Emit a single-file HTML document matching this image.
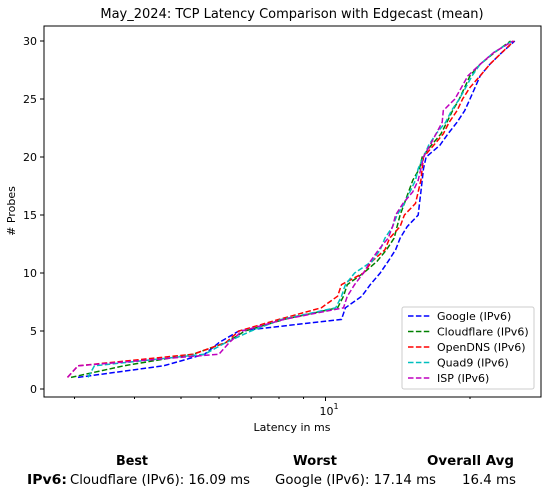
<!DOCTYPE html>
<html><head><meta charset="utf-8"><style>
body{margin:0;background:#fff;font-family:"Liberation Sans","DejaVu Sans",sans-serif}
svg text{font-family:"DejaVu Sans","Liberation Sans",sans-serif}
</style></head><body>
<svg id="c" width="548" height="496" xmlns="http://www.w3.org/2000/svg"></svg>
<script>
const probes=[1,2,3,4,5,6,7,8,9,10,11,12,13,14,15,16,17,18,19,20,21,22,23,24,25,26,27,28,29,30];
const seriesNames=["Google (IPv6)","Cloudflare (IPv6)","OpenDNS (IPv6)","Quad9 (IPv6)","ISP (IPv6)"];
const google=[3.05,4.6,5.6,6.0,6.6,10.8,11.0,11.9,12.4,13.0,13.5,14.0,14.3,14.8,15.6,15.7,15.8,15.9,16.0,16.2,17.3,18.0,18.8,19.5,20.0,20.5,21.0,22.0,23.3,24.8];
const cloudflare=[2.95,3.8,5.3,6.2,6.8,8.2,10.6,10.9,11.1,12.0,12.8,13.4,13.9,14.1,14.3,14.6,14.9,15.2,15.7,15.9,16.6,17.4,17.9,18.4,19.0,19.5,20.0,21.0,22.5,24.3];
const opendns=[2.9,3.05,5.3,6.2,6.6,8.0,9.8,10.6,10.8,12.0,12.5,13.3,13.6,14.3,14.6,15.4,15.6,15.8,15.9,16.0,16.8,17.6,18.1,18.8,19.3,20.0,21.0,22.0,23.3,24.7];
const quad9=[3.2,3.3,5.6,6.2,7.0,8.1,10.5,10.8,11.0,11.5,12.5,13.0,13.3,13.8,14.1,14.6,15.0,15.4,15.6,16.0,16.4,17.0,17.8,18.3,19.0,19.6,20.2,21.0,22.4,24.5];
const isp=[2.9,3.05,6.0,6.3,6.7,8.2,10.9,11.1,11.5,12.0,12.4,12.9,13.5,13.8,14.0,14.5,15.2,15.6,15.8,16.0,16.5,17.0,17.5,17.6,18.6,19.2,19.8,21.0,22.4,24.6];
const yTicks=[0,5,10,15,20,25,30];
const colors=["#0000ff","#008000","#ff0000","#00bfbf","#bf00bf"];
const S=document.getElementById('c');const NS="http://www.w3.org/2000/svg";
function mk(t,a,txt){const e=document.createElementNS(NS,t);for(const k in a)e.setAttribute(k,a[k]);if(txt!=null)e.textContent=txt;S.appendChild(e);return e;}
const L=44,R=541,T=26,B=397;
const X=v=>325.5+480*Math.log10(v/10);
const Y=v=>389-v*(348/30);
let e=mk('rect',{x:L,y:T,width:R-L,height:B-T,fill:'none',stroke:'#000','stroke-width':1});


e=mk('text',{x:292,y:18,'text-anchor':'middle','font-size':13},'May_2024: TCP Latency Comparison with Edgecast (mean)');


yTicks.forEach(t=>{const y=Y(t);mk('line',{x1:L-4,x2:L,y1:y,y2:y,stroke:'#000'});
e=mk('text',{x:L-7,y:y+4,'text-anchor':'end','font-size':11},t);

});
[3,4,5,6,7,8,9,20].forEach(v=>{const x=X(v);mk('line',{x1:x,x2:x,y1:B,y2:B+2,stroke:'#000'});});
mk('line',{x1:X(10),x2:X(10),y1:B,y2:B+4,stroke:'#000'});
e=mk('text',{x:X(10)-6,y:415,'font-size':11},'10');


mk('text',{x:X(10)+8,y:409,'font-size':8},'1');
e=mk('text',{x:292,y:431,'text-anchor':'middle','font-size':11},'Latency in ms');


e=mk('text',{x:15,y:211,'text-anchor':'middle','font-size':11,transform:'rotate(-90 15 211)'},'# Probes');


[google,cloudflare,opendns,quad9,isp].forEach((s,i)=>{
 const d=s.map((v,j)=>(j?'L':'M')+X(v).toFixed(1)+' '+Y(probes[j]).toFixed(1)).join(' ');
 const p=mk('path',{d:d,fill:'none',stroke:colors[i],'stroke-width':1.5,'stroke-dasharray':'5.5 2.4'});
 
 
});
e=mk('rect',{x:402,y:307,width:132,height:82,rx:2,fill:'#fff','fill-opacity':0.85,stroke:'#ccc'});


seriesNames.forEach((n,i)=>{const y=316+i*15.5;
 mk('line',{x1:408,x2:430,y1:y,y2:y,stroke:colors[i],'stroke-width':1.5,'stroke-dasharray':'5.5 2.4'});
 const t=mk('text',{x:437,y:y+4,'font-size':11},n);
 
 });
const hd=[["Best",116,32],["Worst",293,44],["Overall Avg",427,87]];
hd.forEach(h=>{const t=mk('text',{x:h[1],y:465,'font-size':13,'font-weight':'bold',textLength:h[2],lengthAdjust:'spacingAndGlyphs'},h[0]);
 
 });
e=mk('text',{x:27,y:484,'font-size':13,'font-weight':'bold',textLength:40,lengthAdjust:'spacingAndGlyphs'},'IPv6:');


[["Cloudflare (IPv6): 16.09 ms",70,180],["Google (IPv6): 17.14 ms",275,161],["16.4 ms",462,54]].forEach(c=>{
 const t=mk('text',{x:c[1],y:484,'font-size':13,textLength:c[2],lengthAdjust:'spacingAndGlyphs'},c[0]);
 
 });
</script>
</body></html>
